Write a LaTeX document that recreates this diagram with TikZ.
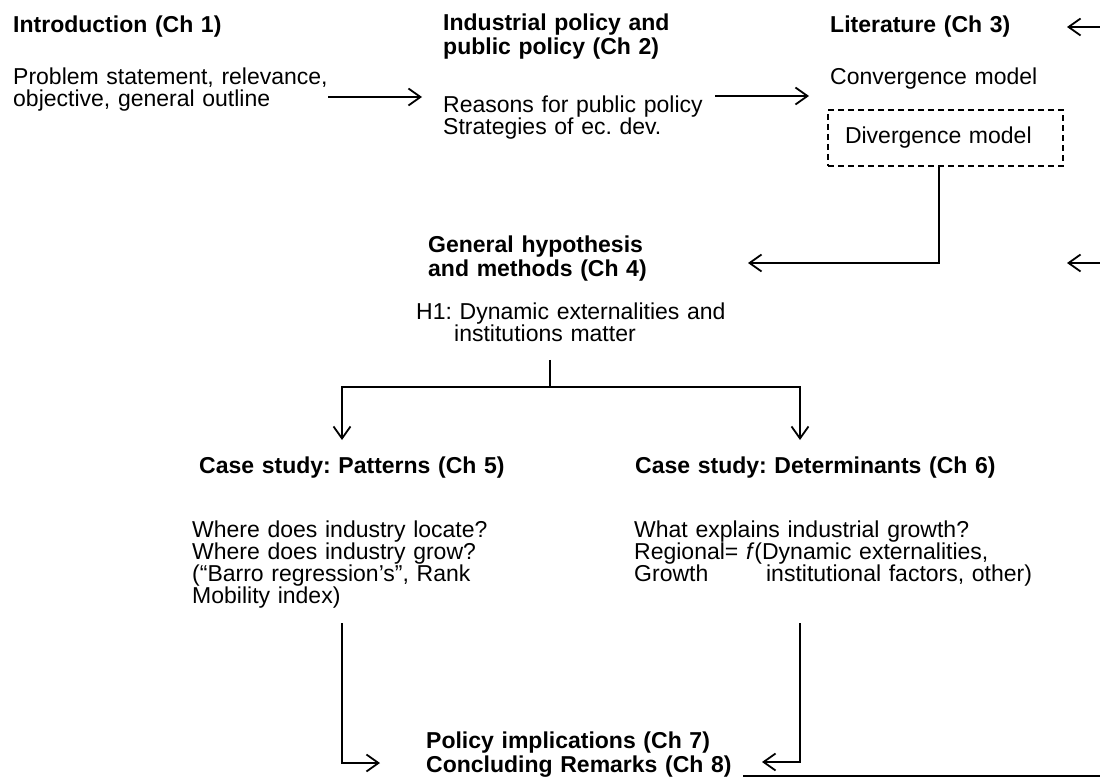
\documentclass[tikz,border=0pt]{standalone}
\usepackage{fontspec}
\setmainfont{Liberation Sans}
\usetikzlibrary{arrows.meta}
\frenchspacing
\begin{document}
\begin{tikzpicture}[x=1pt,y=-1pt,
  txt/.style={anchor=base west, inner sep=0pt, text width=480pt, align=left,
              font=\fontsize{23}{22}\selectfont},
  ttl/.style={txt, font=\fontsize{23}{24}\selectfont\bfseries},
  link/.style={line width=1.8pt, -{Straight Barb[length=12pt,width=17pt]}},
  plain/.style={line width=1.8pt},
  divbox/.style={draw, line width=1.8pt, dash pattern=on 6pt off 4pt,
                 text width=201pt, inner xsep=17pt, inner ysep=0pt,
                 minimum height=56pt, align=left,
                 font=\fontsize{23}{22}\selectfont},
]
\useasboundingbox (0,0) rectangle (1100,783);

% chapter 1
\node[ttl] (intro) at (13,33) {Introduction (Ch 1)};
\node[txt] (introbody) at (13,85) {Problem statement, relevance,\\objective, general outline};

% chapter 2
\node[ttl] (ind) at (443,31) {Industrial policy and\\public policy (Ch 2)};
\node[txt] (indbody) at (443,113) {Reasons for public policy\\Strategies of ec. dev.};

% chapter 3
\node[ttl] (lit) at (830,33) {Literature (Ch 3)};
\node[txt] (conv) at (830,85) {Convergence model};
\node[divbox] (div) at (945.5,138) {Divergence model};

% chapter 4
\node[ttl] (hyp) at (428,253) {General hypothesis\\and methods (Ch 4)};
\node[txt] (h1) at (416,320) {H1: Dynamic externalities and\\\hspace*{38pt}institutions matter};

% chapters 5 and 6
\node[ttl] (pat) at (199,473) {Case study: Patterns (Ch 5)};
\node[txt] (patbody) at (192,537) {Where does industry locate?\\Where does industry grow?\\(“Barro regression’s”, Rank\\Mobility index)};
\node[ttl] (det) at (635,473) {Case study: Determinants (Ch 6)};
\node[txt] (detbody) at (634,537) {What explains industrial growth?\\Regional= \textit{f}(Dynamic externalities,\\\leavevmode\rlap{Growth}\phantom{Regional= \textit{f}(}\hspace{4pt}institutional factors, other)};

% chapters 7 and 8
\node[ttl] (pol) at (426,748) {Policy implications (Ch 7)\\Concluding Remarks (Ch 8)};

% connector end points
\coordinate (a1s) at (328,97);  \coordinate (a1e) at (422,97);
\coordinate (a2s) at (715,96);  \coordinate (a2e) at (809,96);
\coordinate (fbtop) at (1100,27); \coordinate (fbtoptip) at (1067,27);
\coordinate (fbmid) at (1100,263); \coordinate (fbmidtip) at (1067,263);
\coordinate (hypin) at (748,263);
\coordinate (splittop) at (550,360); \coordinate (split) at (550,387);
\coordinate (patin) at (342,440); \coordinate (detin) at (800,440);
\coordinate (patout) at (342,623); \coordinate (polinl) at (380,763);
\coordinate (detout) at (800,623); \coordinate (polinr) at (762,762);
\coordinate (fbbot) at (743,776); \coordinate (fbbotend) at (1100,776);

% connectors
\draw[link] (a1s) -- (a1e);
\draw[link] (a2s) -- (a2e);
\draw[link] (fbtop) -- (fbtoptip);
\draw[link] (fbmid) -- (fbmidtip);
\draw[link] ([xshift=-6.5pt]div.south) |- (hypin);
\draw[plain] (splittop) -- (split);
\draw[link] (split) -| (patin);
\draw[link] (split) -| (detin);
\draw[link] (patout) |- (polinl);
\draw[link] (detout) |- (polinr);
\draw[plain] (fbbot) -- (fbbotend);
\end{tikzpicture}
\end{document}
